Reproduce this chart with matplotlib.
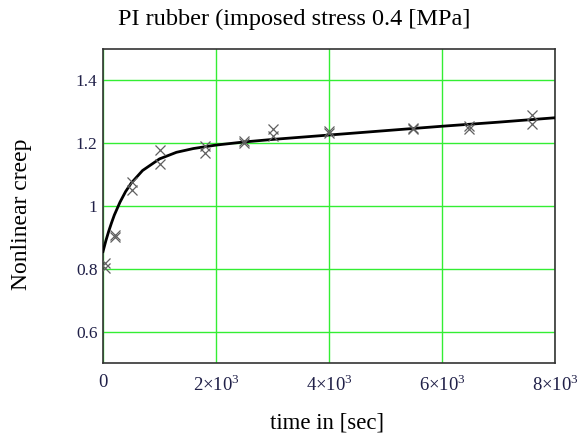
import matplotlib.pyplot as plt

plt.rcParams['font.family'] = ['Liberation Serif', 'DejaVu Serif']
plt.rcParams['mathtext.fontset'] = 'custom'
plt.rcParams['mathtext.rm'] = 'Liberation Serif'

# measured creep points (two runs per time)
t_data = [30, 30, 210, 210, 505, 505, 1005, 1005, 1800, 1800,
          2500, 2500, 3000, 3000, 4000, 4000, 5490, 5490, 6480, 6480, 7600, 7600]
creep_data = [0.818, 0.802, 0.907, 0.902, 1.077, 1.050, 1.178, 1.133, 1.190, 1.170,
              1.207, 1.201, 1.244, 1.223, 1.238, 1.233, 1.249, 1.246, 1.254, 1.246, 1.289, 1.260]

# fitted model curve
t_fit = [0, 25, 50, 100, 150, 200, 300, 400, 500, 700, 1000, 1300, 1600, 2000,
         2500, 3000, 4000, 5000, 6000, 7000, 8000]
creep_fit = [0.855, 0.872, 0.889, 0.919, 0.946, 0.971, 1.012, 1.046, 1.073, 1.113,
             1.150, 1.171, 1.183, 1.194, 1.204, 1.212, 1.226, 1.240, 1.254, 1.267, 1.281]

x_ticks = [0, 2000, 4000, 6000, 8000]
x_ticklabels = ['0', r'$2{\times}10^{3}$', r'$4{\times}10^{3}$', r'$6{\times}10^{3}$', r'$8{\times}10^{3}$']
y_ticks = [0.6, 0.8, 1.0, 1.2, 1.4]
y_ticklabels = ['0.6', '0.8', '1', '1.2', '1.4']

fig = plt.figure(figsize=(5.8, 4.34), dpi=100)
ax = fig.add_axes([0.1776, 0.1636, 0.7793, 0.7235])

ax.plot(t_fit, creep_fit, color='black', lw=2.0, zorder=3)
ax.plot(t_data, creep_data, linestyle='none', marker='x', ms=7, mew=0.9,
        color='#606060', zorder=4)

ax.set_xlim(0, 8000)
ax.set_ylim(0.5, 1.5)
ax.set_xticks(x_ticks)
ax.set_xticklabels(x_ticklabels, fontsize=13.5)
ax.set_yticks(y_ticks)
ax.set_yticklabels(y_ticklabels, fontsize=12.5)
ax.tick_params(length=0, labelcolor='#202048')
ax.tick_params(axis='x', pad=8)
ax.tick_params(axis='y', pad=4)
ax.grid(True, color='#33ee33', lw=1.0)
ax.set_axisbelow(True)
for s in ax.spines.values():
    s.set_color('#333333')
    s.set_linewidth(1.2)

fig.text(294 / 580, 1 - 19 / 434, 'PI rubber (imposed stress 0.4 [MPa]',
         ha='center', va='center', fontsize=17.5)
fig.text(22 / 580, 1 - 214 / 434, 'Nonlinear creep', rotation=90,
         ha='center', va='center', fontsize=17)
fig.text(327 / 580, 1 - 423 / 434, 'time in [sec]', ha='center', va='center', fontsize=16.5)

fig.savefig('out.png', dpi=100)
